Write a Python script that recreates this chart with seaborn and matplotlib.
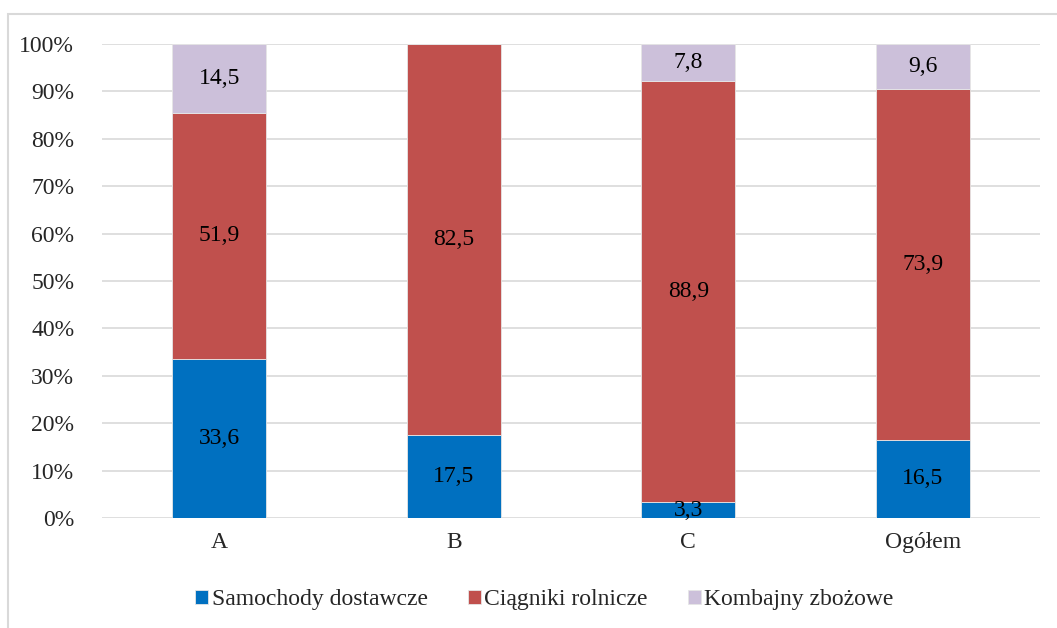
import matplotlib
matplotlib.use("Agg")
import matplotlib.pyplot as plt
import seaborn as sns
import pandas as pd
import numpy as np
from matplotlib.patches import Rectangle
from matplotlib.ticker import PercentFormatter

categories = ["A", "B", "C", "Ogółem"]
samochody = [33.6, 17.5, 3.3, 16.5]
ciagniki = [51.9, 82.5, 88.9, 73.9]
kombajny = [14.5, 0.0, 7.8, 9.6]

series_names = ["Samochody dostawcze", "Ciągniki rolnicze", "Kombajny zbożowe"]
series_values = [samochody, ciagniki, kombajny]
colors = ["#0070C0", "#C0504D", "#CCC0DA"]

sns.set_theme(style="white")
plt.rcParams["font.family"] = ["Liberation Serif", "DejaVu Serif"]

FS = 17

fig = plt.figure(figsize=(10.57, 6.28), dpi=100)
ax = fig.add_axes([0.0965, 0.175, 0.8875, 0.755])

# outer frame of the chart area
fig.patches.append(Rectangle((8 / 1057, -0.1), 1.2, 1 - 14 / 628 + 0.1,
                             transform=fig.transFigure, fill=False,
                             edgecolor="#D9D9D9", linewidth=1.5, zorder=0))

bottom = np.zeros(len(categories))
for name, vals, col in zip(series_names, series_values, colors):
    df = pd.DataFrame({"cat": categories, "val": vals})
    sns.barplot(data=df, x="cat", y="val", bottom=bottom, color=col,
                saturation=1, width=0.4, edgecolor="#E6E6E6", linewidth=0.6,
                label=name, ax=ax, zorder=3, legend=False)
    for i, v in enumerate(vals):
        if v > 0:
            ax.text(i, bottom[i] + v / 2, f"{v:.1f}".replace(".", ","),
                    ha="center", va="center", fontsize=FS, color="black",
                    zorder=5)
    bottom = bottom + np.array(vals)

ax.set_xlim(-0.5, 3.5)
ax.set_ylim(0, 100)
ax.set_yticks(np.arange(0, 101, 10))
ax.yaxis.set_major_formatter(PercentFormatter(decimals=0))
ax.grid(axis="y", color="#D9D9D9", linewidth=1.2, zorder=0)
ax.set_axisbelow(True)
for s in ax.spines.values():
    s.set_visible(False)
ax.set_xlabel("")
ax.set_ylabel("")
ax.tick_params(axis="y", labelsize=FS, pad=20, length=0)
ax.tick_params(axis="x", labelsize=FS, pad=10, length=0)

handles, labels = ax.get_legend_handles_labels()
if ax.get_legend() is not None:
    ax.get_legend().remove()
fig.legend(handles, labels, loc="center", bbox_to_anchor=(0.515, 0.045),
           ncol=3, frameon=False, fontsize=FS, handlelength=0.55,
           handleheight=0.55, handletextpad=0.15, columnspacing=1.7)

fig.savefig("out.png", dpi=100)
